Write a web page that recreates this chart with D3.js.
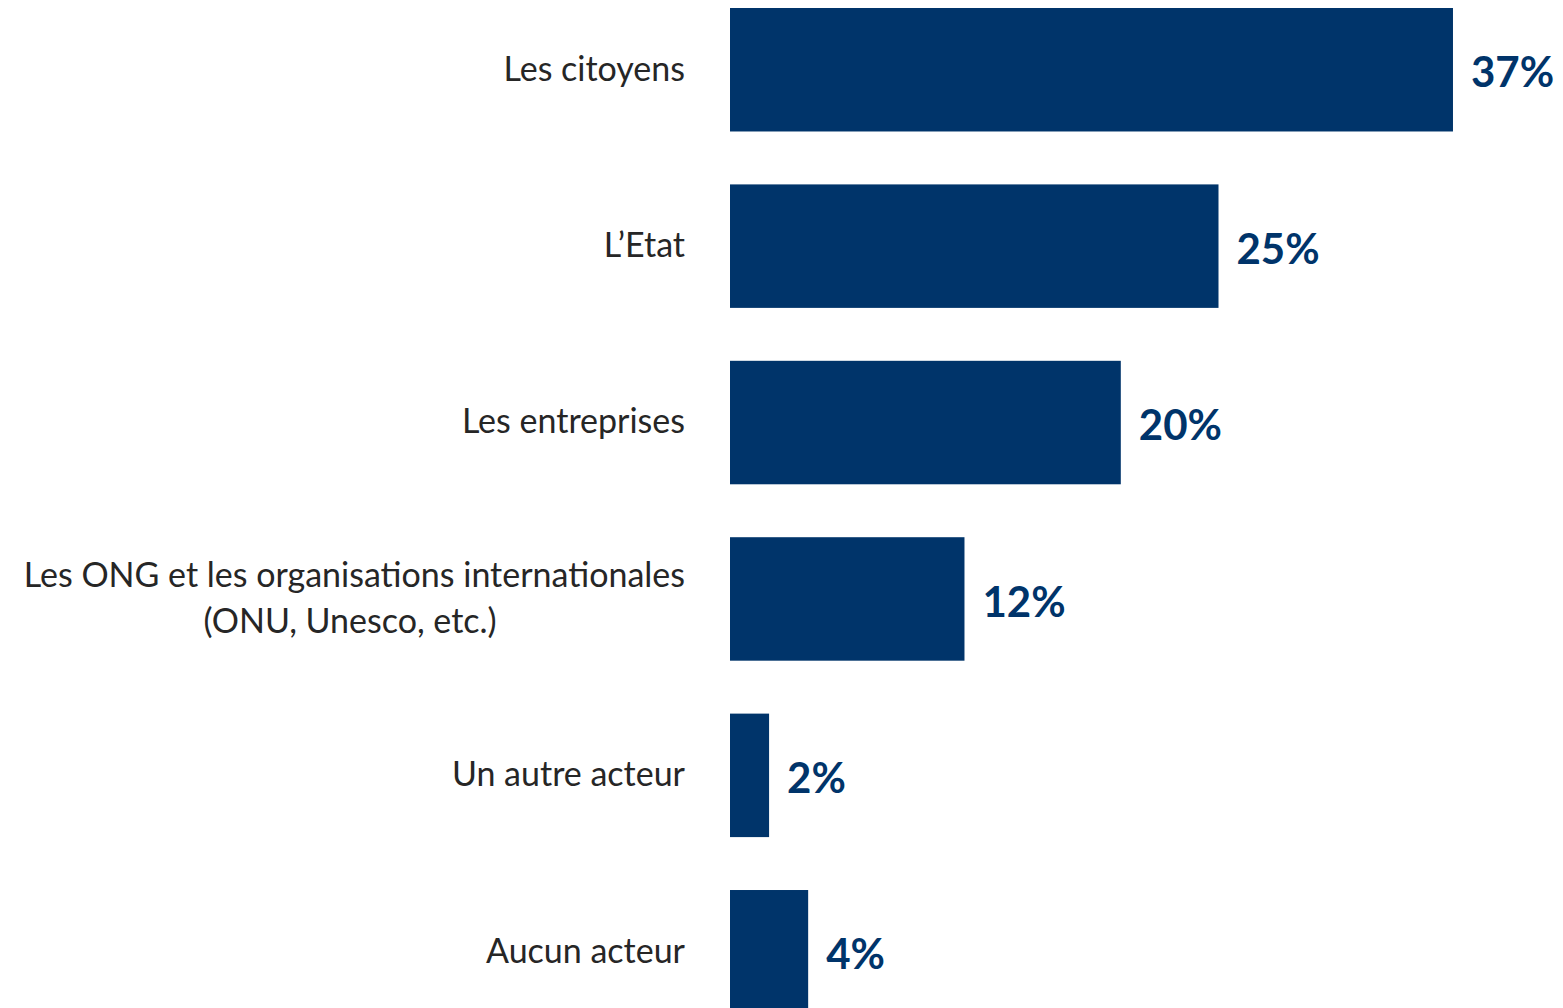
<!DOCTYPE html>
<html>
<head>
<meta charset="utf-8">
<script src="https://cdn.jsdelivr.net/npm/d3@7"></script>
<style>
  body { margin: 0; background: #fff; }
  svg { display: block; }
</style>
</head>
<body>
<svg width="1563" height="1008"></svg>
<script>
// data
const categories = [
  ["Les citoyens"],
  ["L\u2019Etat"],
  ["Les entreprises"],
  ["Les ONG et les organisations internationales", "(ONU, Unesco, etc.)"],
  ["Un autre acteur"],
  ["Aucun acteur"]
];
const values = [37, 25, 20, 12, 2, 4];

const data = categories.map((c, i) => ({ name: c.join(" "), lines: c, value: values[i] }));

const svg = d3.select("svg");
const barColor = "#00346A";
const fontFamily = "Lato, 'Open Sans', sans-serif";

// layout
const x0 = 730;
const pxPerPct = 19.54;

const xScale = d3.scaleLinear().domain([0, 37]).range([x0, x0 + 37 * pxPerPct]);
const yScale = d3.scaleBand()
  .domain(data.map(d => d.name))
  .range([8, 1013.5])
  .paddingInner(0.3)
  .paddingOuter(0);

const groups = svg.selectAll("g.row").data(data).enter()
  .append("g")
  .attr("class", "row")
  .attr("transform", d => `translate(0, ${yScale(d.name)})`);

groups.append("rect")
  .attr("x", xScale(0))
  .attr("width", d => xScale(d.value) - xScale(0))
  .attr("height", yScale.bandwidth())
  .attr("fill", barColor);

// value labels
groups.append("text")
  .attr("x", d => xScale(d.value) + 18)
  .attr("y", yScale.bandwidth() / 2 + 3)
  .attr("dy", "0.35em")
  .attr("font-family", fontFamily)
  .attr("font-weight", "bold")
  .attr("font-size", 42)
  .attr("fill", barColor)
  .text(d => d.value + "%");

// category labels (right aligned, second line centred under the first)
const lineH = 46;
const labels = groups.append("text")
  .attr("font-family", fontFamily)
  .attr("font-size", 34)
  .attr("fill", "#262626");

labels.each(function(d) {
  const t = d3.select(this);
  const n = d.lines.length;
  d.lines.forEach((line, i) => {
    t.append("tspan")
      .attr("x", n > 1 && i > 0 ? 350 : 685)
      .attr("text-anchor", n > 1 && i > 0 ? "middle" : "end")
      .attr("y", yScale.bandwidth() / 2 - 1 + (i - (n - 1) / 2) * lineH)
      .attr("dy", "0.35em")
      .text(line);
  });
});
</script>
</body>
</html>
